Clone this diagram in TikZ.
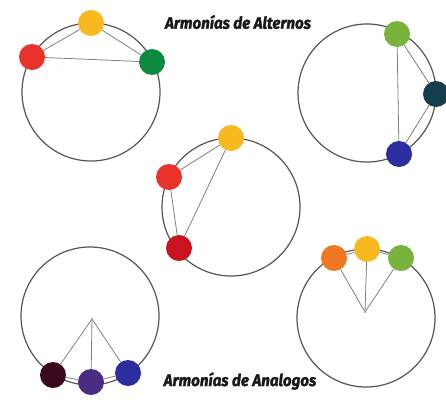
\documentclass[tikz,border=0pt]{standalone}
\usepackage{fontspec}
\setmainfont{Fira Sans}
\newfontfamily\heavytitle{Fira Sans}[UprightFont={* Bold Italic},FakeBold=1.6,FakeStretch=0.92]
\definecolor{cyel}{HTML}{F8B820}
\definecolor{cred}{HTML}{E8322A}
\definecolor{cdred}{HTML}{C8141E}
\definecolor{cgrn}{HTML}{0B8A40}
\definecolor{clgrn}{HTML}{78B43C}
\definecolor{cteal}{HTML}{143E4E}
\definecolor{cblue}{HTML}{2A2E9E}
\definecolor{cmaroon}{HTML}{3A0A1E}
\definecolor{cpurp}{HTML}{4A2C82}
\definecolor{corange}{HTML}{F07820}
\definecolor{ring}{HTML}{555555}
\definecolor{chordc}{HTML}{808080}
\begin{document}
\begin{tikzpicture}[x=1pt,y=-1pt,
  wheel/.style={circle,draw=ring,line width=1.2pt,minimum size=138pt,inner sep=0pt},
  dot/.style={circle,fill=#1,minimum size=26pt,inner sep=0pt},
  chord/.style={draw=chordc,line width=0.8pt},
  hub/.style={circle,fill=chordc,minimum size=2pt,inner sep=0pt},
  title/.style={font=\fontsize{16.5}{16.5}\heavytitle,text=black!90}]
\useasboundingbox (0,0) rectangle (446,399);
\fill[white] (0,0) rectangle (446,399);
% wheels
\node[wheel] (w1) at (91,92) {};
\node[wheel] (w2) at (367,93) {};
\node[wheel] (w3) at (231,207) {};
\node[wheel] (w4) at (90,316) {};
\node[wheel] (w5) at (366,318) {};
% hubs
\node[hub] (h4) at (92,319) {};
\node[hub] (h5) at (365,312) {};
% wheel 1 dots
\node[dot=cyel] (a1) at (91,23) {};
\node[dot=cred] (a2) at (32,57) {};
\node[dot=cgrn] (a3) at (152,62) {};
% wheel 2 dots
\node[dot=clgrn] (b1) at (397,34) {};
\node[dot=cteal] (b2) at (436,94) {};
\node[dot=cblue] (b3) at (399,154) {};
% wheel 3 dots
\node[dot=cyel] (c1) at (231,138) {};
\node[dot=cred] (c2) at (169,177) {};
\node[dot=cdred] (c3) at (179,248) {};
% wheel 4 dots
\node[dot=cmaroon] (d1) at (53,375) {};
\node[dot=cpurp] (d2) at (91,382) {};
\node[dot=cblue] (d3) at (128,373) {};
% wheel 5 dots
\node[dot=corange] (e1) at (334,258) {};
\node[dot=cyel] (e2) at (367,249) {};
\node[dot=clgrn] (e3) at (401,258) {};
% chords
\draw[chord] (a2) -- (a1); \draw[chord] (a1) -- (a3); \draw[chord] (a2) -- (a3);
\draw[chord] (b1) -- (b2); \draw[chord] (b2) -- (b3); \draw[chord] (b1) -- (b3);
\draw[chord] (c2) -- (c1); \draw[chord] (c1) -- (c3); \draw[chord] (c2) -- (c3);
\draw[chord] (h4) -- (d1); \draw[chord] (h4) -- (d2); \draw[chord] (h4) -- (d3);
\draw[chord] (d1) -- (d2); \draw[chord] (d2) -- (d3);
\draw[chord] (h5) -- (e1); \draw[chord] (h5) -- (e2); \draw[chord] (h5) -- (e3);
\draw[chord] (e1) -- (e2); \draw[chord] (e2) -- (e3);
% titles
\node[title] (t1) at (238,22) {Armonías de Alternos};
\node[title] (t2) at (240,381) {Armonías de Analogos};
\end{tikzpicture}
\end{document}
